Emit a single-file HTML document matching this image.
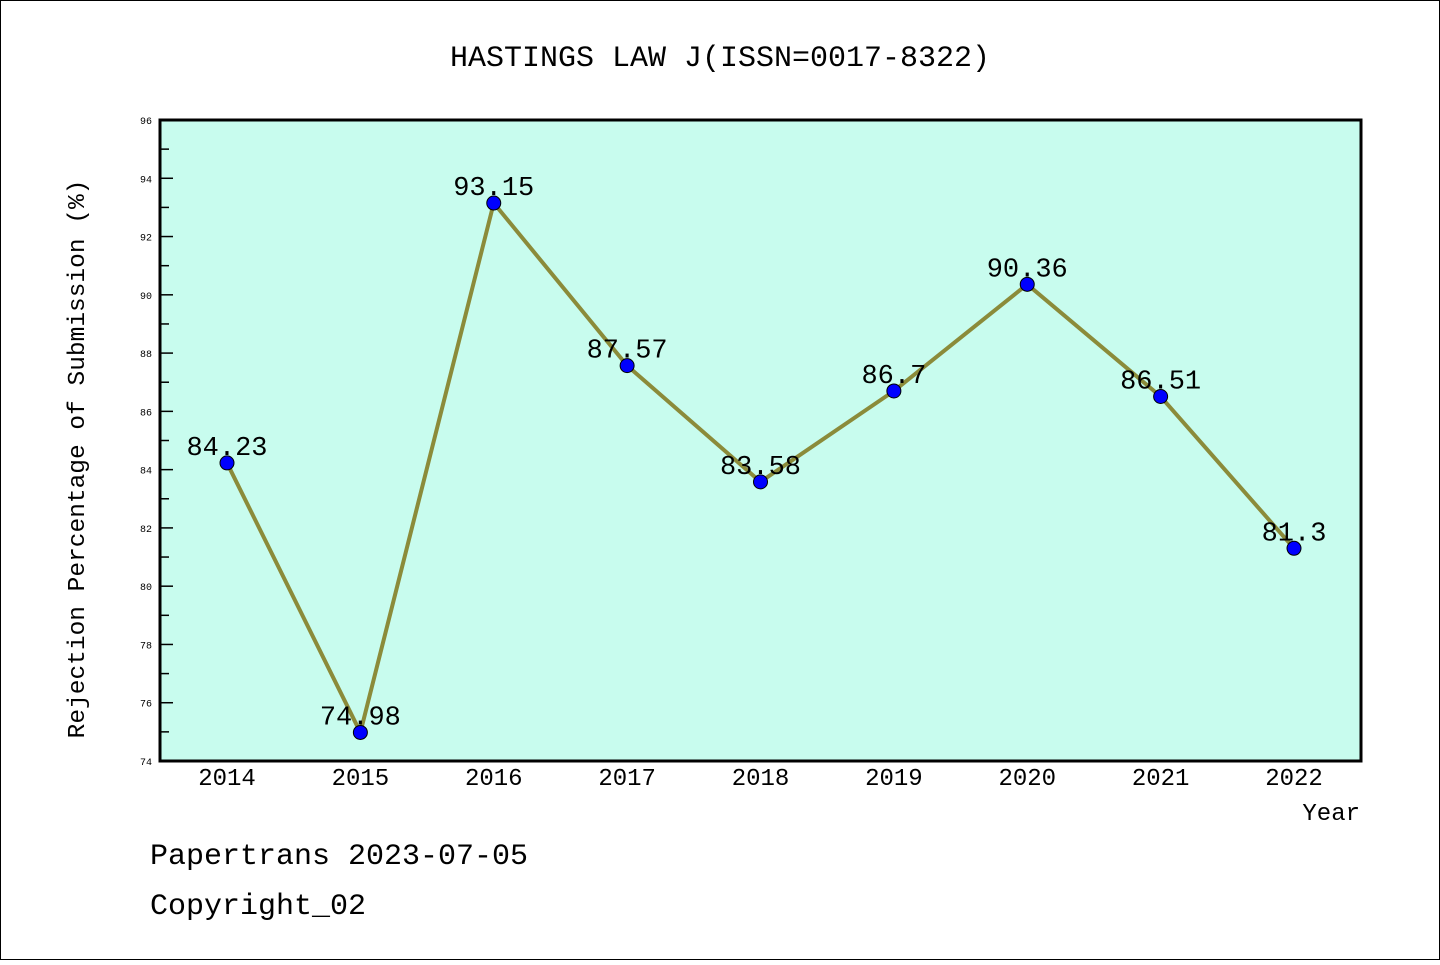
<!DOCTYPE html>
<html><head><meta charset="utf-8"><style>
body{margin:0;background:#fff}
svg text{font-family:"Liberation Mono",monospace}
</style></head><body>
<svg id="c" width="1440" height="960">
<rect x="0.5" y="0.5" width="1439" height="959" fill="#fff" stroke="#000"/>
<text x="720" y="66" font-size="30" text-anchor="middle">HASTINGS LAW J(ISSN=0017-8322)</text>
<rect x="160" y="120" width="1201" height="641" fill="#c8fcee" stroke="#000" stroke-width="3"/>
<g id="axes"></g>
<text x="1360" y="820" font-size="24" text-anchor="end">Year</text>
<text transform="translate(84,459) rotate(-90)" font-size="24.5" text-anchor="middle">Rejection Percentage of Submission (%)</text>
<text x="150" y="864" font-size="30">Papertrans 2023-07-05</text>
<text x="150" y="914" font-size="30">Copyright_02</text>
<g id="series"></g>
</svg>
<script>
const years=["2014","2015","2016","2017","2018","2019","2020","2021","2022"];
const values=[84.23,74.98,93.15,87.57,83.58,86.7,90.36,86.51,81.3];
const labels=["84.23","74.98","93.15","87.57","83.58","86.7","90.36","86.51","81.3"];
const yTicks=[74,76,78,80,82,84,86,88,90,92,94,96];
const NS="http://www.w3.org/2000/svg";
const X0=227,XS=133.375,Y0=761,Y1=120,YMIN=74,YMAX=96;
const x=i=>X0+i*XS;
const y=v=>Y0-(v-YMIN)/(YMAX-YMIN)*(Y0-Y1);
function mk(t,a,p){const e=document.createElementNS(NS,t);for(const k in a)e.setAttribute(k,a[k]);p.appendChild(e);return e;}
const ax=document.getElementById('axes'),se=document.getElementById('series');
for(let v=YMIN;v<=YMAX;v++){
  const major=(v%2===0);
  const t=mk('line',{x1:160,x2:major?173:169,y1:y(v),y2:y(v),stroke:'#000','stroke-width':1.5},ax);
  
  
}
yTicks.forEach(v=>{
  const t=mk('text',{x:152,y:y(v)+4,'font-size':10,'text-anchor':'end'},ax);
  t.textContent=v;
  
  
});
years.forEach((yr,i)=>{
  const t=mk('text',{x:x(i),y:785,'font-size':24,'text-anchor':'middle'},ax);
  t.textContent=yr;
  
  
});
const pl=mk('polyline',{points:values.map((v,i)=>x(i)+','+y(v)).join(' '),fill:'none',stroke:'#8b8b3a','stroke-width':4},se);


values.forEach((v,i)=>{
  const c=mk('circle',{cx:x(i),cy:y(v),r:7,fill:'#0000ff',stroke:'#000','stroke-width':1},se);
  
  
  const t=mk('text',{x:x(i),y:y(v)-8,'font-size':27,'text-anchor':'middle'},se);
  t.textContent=labels[i];
  
  
});
</script>
</body></html>
